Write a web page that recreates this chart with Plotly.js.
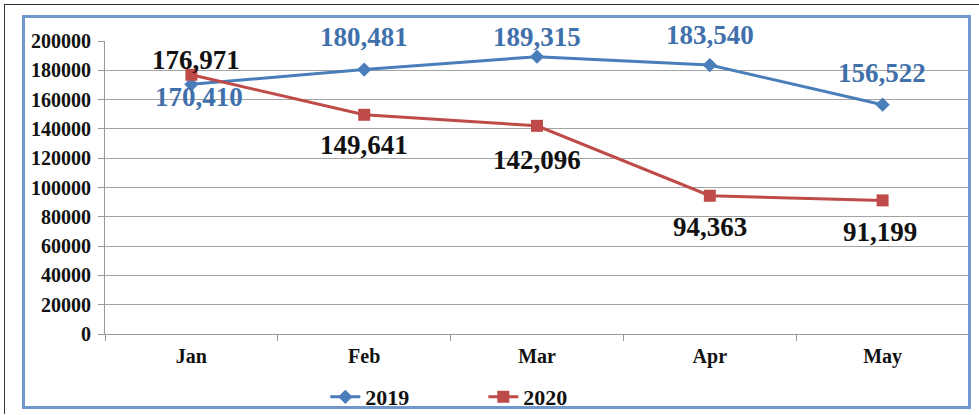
<!DOCTYPE html>
<html>
<head>
<meta charset="utf-8">
<script src="https://cdn.plot.ly/plotly-3.0.1.min.js"></script>
<style>
  html, body { margin: 0; padding: 0; background: #ffffff; }
  #wrap { position: relative; width: 979px; height: 415px; overflow: hidden; }
  #chart { position: absolute; left: 0; top: 0; width: 979px; height: 415px; }
  .outer { position: absolute; left: 4px; top: 4px; width: 980px; height: 409px;
           border-top: 1px solid #2b3440; border-left: 1px solid #2b3440; pointer-events: none; }
  .frame { position: absolute; left: 22px; top: 15px; width: 943px; height: 388px;
           border: 3px solid #7098cc; pointer-events: none; }
</style>
</head>
<body>
<div id="wrap">
  <div id="chart"></div>
  <div class="outer"></div>
  <div class="frame"></div>
</div>
<script>
const months = ["Jan", "Feb", "Mar", "Apr", "May"];
const values2019 = [170410, 180481, 189315, 183540, 156522];
const values2020 = [176971, 149641, 142096, 94363, 91199];
const yTicks = [0, 20000, 40000, 60000, 80000, 100000, 120000, 140000, 160000, 180000, 200000];

// label placement styles (pixel offsets from each point)
const shift2019 = [[8, -13], [0, 33], [0, 20], [0, 30], [-1, 32]];
const shift2020 = [[5, 15], [0, -30], [0, -34], [0, -31], [-3, -32]];

const serif = "'Liberation Serif', 'Times New Roman', serif";
const blue = "#4a7ebb";
const red = "#be4b48";

const traces = [
  {
    x: months, y: values2019, name: "2019", type: "scatter", mode: "lines+markers",
    line: { color: blue, width: 3 },
    marker: { symbol: "diamond", size: 11, color: blue },
    hoverinfo: "skip"
  },
  {
    x: months, y: values2020, name: "2020", type: "scatter", mode: "lines+markers",
    line: { color: red, width: 3 },
    marker: { symbol: "square", size: 12, color: red },
    hoverinfo: "skip"
  }
];

const annotations = [];
months.forEach((m, i) => {
  annotations.push({
    x: m, y: values2019[i], xref: "x", yref: "y",
    text: values2019[i].toLocaleString("en-US"), showarrow: false,
    xshift: shift2019[i][0], yshift: shift2019[i][1],
    font: { family: serif, size: 27, color: "#4070ab", weight: "bold" }
  });
  annotations.push({
    x: m, y: values2020[i], xref: "x", yref: "y",
    text: values2020[i].toLocaleString("en-US"), showarrow: false,
    xshift: shift2020[i][0], yshift: shift2020[i][1],
    font: { family: serif, size: 27, color: "#111111", weight: "bold" }
  });
});

const layout = {
  width: 979, height: 415,
  margin: { l: 105, r: 10, t: 41, b: 81, autoexpand: false },
  paper_bgcolor: "#ffffff", plot_bgcolor: "#ffffff",
  showlegend: true,
  legend: {
    orientation: "h", x: 0.255, xanchor: "left", y: -0.215, yanchor: "middle",
    font: { family: serif, size: 22, color: "#111111", weight: "bold" },
    bgcolor: "rgba(0,0,0,0)", entrywidth: 113, entrywidthmode: "pixels"
  },
  xaxis: {
    type: "category", categoryorder: "array", categoryarray: months,
    range: [-0.5, 4.5], automargin: false,
    showgrid: false, showline: true, linecolor: "#9a9a9a", linewidth: 1,
    ticks: "outside", tickson: "boundaries", ticklen: 6, tickcolor: "#9a9a9a",
    tickfont: { family: serif, size: 20, color: "#111111", weight: "bold" },
    ticklabelstandoff: 4, zeroline: false, fixedrange: true
  },
  yaxis: {
    range: [0, 200000], tickvals: yTicks, ticktext: yTicks.map(String), automargin: false,
    showgrid: true, gridcolor: "#a3a3a3", gridwidth: 1,
    showline: true, linecolor: "#9a9a9a", linewidth: 1,
    ticks: "outside", ticklen: 6, tickcolor: "#9a9a9a",
    tickfont: { family: serif, size: 20, color: "#111111", weight: "bold" },
    ticklabelstandoff: 3, zeroline: false, fixedrange: true
  },
  annotations: annotations
};

Plotly.newPlot("chart", traces, layout, { displayModeBar: false, staticPlot: true });
</script>
</body>
</html>
